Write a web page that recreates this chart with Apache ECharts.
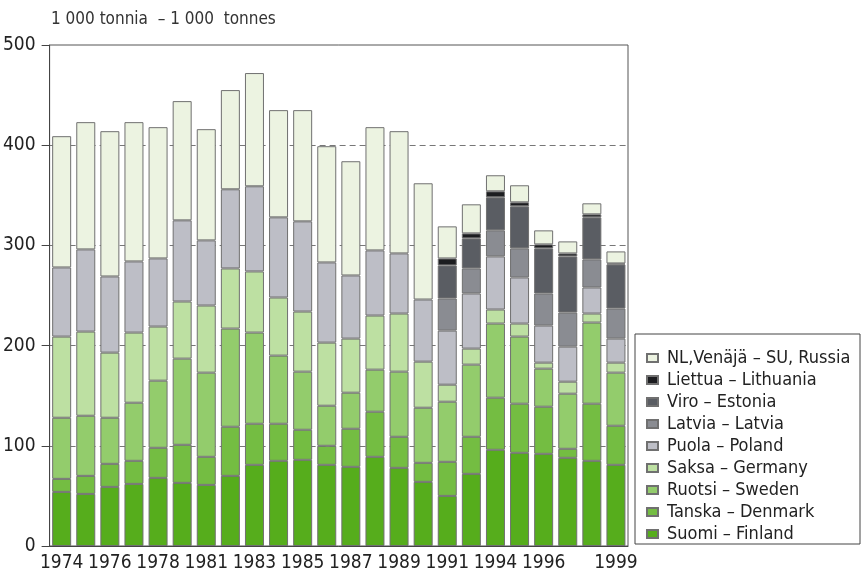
<!DOCTYPE html>
<html>
<head>
<meta charset="utf-8">
<script src="https://cdn.jsdelivr.net/npm/echarts@6/dist/echarts.min.js"></script>
<style>
html,body{margin:0;padding:0;background:#fff;}
#chart{width:861px;height:578px;}
</style>
</head>
<body>
<div id="chart"></div>
<script>
//vuodet
var years = ['1974','1975','1976','1977','1978','1979','1981','1982','1983','1984','1985','1986',
	'1987','1988','1989','1990','1991','1992','1994','1995','1996','1997','1998','1999'];
//näkyvät akselin tekstit
var shownYears = ['1974','1976','1978','1981','1983','1985','1987','1989','1991','1994','1996','1999'];

var suomi   = [54,52,59,62,68,63,61,70,81,85,86,81,79,89,78,64,50,72,96,93,92,88,85,81];
var tanska  = [13,18,23,23,30,38,28,49,41,37,30,19,38,45,31,19,34,37,52,49,47,9,57,39];
var ruotsi  = [61,60,46,58,67,86,84,98,91,68,58,40,36,42,65,55,60,72,74,67,38,55,81,53];
var saksa   = [81,84,65,70,54,57,67,60,61,58,60,63,54,54,58,46,17,16,14,13,6,12,9,10];
var puola   = [69,82,76,71,68,81,65,79,85,80,90,80,63,65,60,62,54,55,53,46,37,35,26,24];
var latvia  = [null,null,null,null,null,null,null,null,null,null,null,null,null,null,null,null,32,25,26,29,32,34,28,30];
var viro    = [null,null,null,null,null,null,null,null,null,null,null,null,null,null,null,null,33,30,33,42,45,56,42,44];
var liettua = [null,null,null,null,null,null,null,null,null,null,null,null,null,null,null,null,7,5,6,4,4,3,3,1];
var venaja  = [131,127,145,139,131,119,111,99,113,107,111,116,114,123,122,116,32,29,16,17,14,12,11,12];

var seriesDefs = [
	{"name" : "Suomi – Finland", "data" : suomi, "color" : "#56ad1c"},
	{"name" : "Tanska – Denmark", "data" : tanska, "color" : "#74bd42"},
	{"name" : "Ruotsi – Sweden", "data" : ruotsi, "color" : "#93cc6c"},
	{"name" : "Saksa – Germany", "data" : saksa, "color" : "#bde0a2"},
	{"name" : "Puola – Poland", "data" : puola, "color" : "#bdbec6"},
	{"name" : "Latvia – Latvia", "data" : latvia, "color" : "#8a8c92"},
	{"name" : "Viro – Estonia", "data" : viro, "color" : "#5a5d63"},
	{"name" : "Liettua – Lithuania", "data" : liettua, "color" : "#1c1d20"},
	{"name" : "NL,Venäjä – SU, Russia", "data" : venaja, "color" : "#ecf3e1"}
];

var fontFam = "'Liberation Sans Narrow','DejaVu Sans Condensed',sans-serif";

var series = [];
for(var i in seriesDefs){
	series.push({
		name : seriesDefs[i]["name"],
		type : 'bar',
		stack : 'all',
		barWidth : 19,
		data : seriesDefs[i]["data"],
		itemStyle : {color : seriesDefs[i]["color"], borderColor : '#707070', borderWidth : 1}
	});
}

var legendNames = [];
for(var j = seriesDefs.length - 1; j >= 0; j--){
	legendNames.push(seriesDefs[j]["name"]);
}

function showIdx(index){
	return shownYears.indexOf(years[index]) >= 0;
}

var option = {
	backgroundColor : '#fff',
	animation : false,
	title : {
		text : '1 000 tonnia  – 1 000  tonnes',
		left : 46,
		top : 6,
		textStyle : {fontFamily : fontFam, fontSize : 17, fontWeight : 'normal', color : '#333'}
	},
	grid : {left : 48, right : 233, top : 45, bottom : 32, show : true, borderColor : '#555', borderWidth : 1},
	legend : {
		data : legendNames,
		orient : 'vertical',
		left : 641,
		top : 344,
		itemWidth : 11,
		itemHeight : 8,
		itemGap : 4,
		icon : 'rect',
		textStyle : {fontFamily : fontFam, fontSize : 18, color : '#222', lineHeight : 18, padding : [0,0,0,4]}
	},
	graphic : [{
		type : 'rect',
		shape : {x : 635, y : 334, width : 225, height : 210},
		style : {fill : 'none', stroke : '#444', lineWidth : 1},
		z : 0
	}],
	xAxis : {
		type : 'category',
		data : years,
		axisLine : {lineStyle : {color : '#444'}},
		axisTick : {alignWithLabel : true, interval : showIdx, length : 7, lineStyle : {color : '#444'}},
		axisLabel : {interval : showIdx, fontFamily : fontFam, fontSize : 19, color : '#222', margin : 8}
	},
	yAxis : {
		type : 'value',
		min : 0,
		max : 500,
		interval : 100,
		axisLine : {show : true, lineStyle : {color : '#444'}},
		axisTick : {show : true, length : 8, lineStyle : {color : '#444'}},
		axisLabel : {fontFamily : fontFam, fontSize : 19, color : '#222', margin : 14},
		splitLine : {showMinLine : false, showMaxLine : false, lineStyle : {type : [6,4], color : '#777'}}
	},
	series : series
};

var myChart = echarts.init(document.getElementById('chart'));
myChart.setOption(option, true);
</script>
</body>
</html>
